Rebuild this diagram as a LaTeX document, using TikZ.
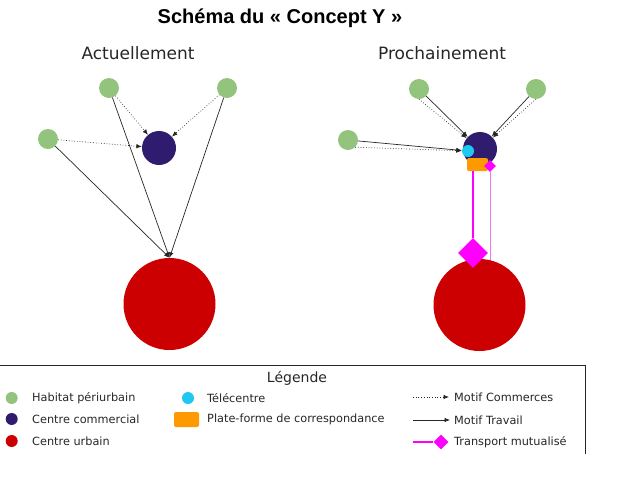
\documentclass[tikz,border=0pt]{standalone}
\usepackage{fontspec}
\setmainfont{DejaVu Sans}
\newfontfamily\titlefont{Liberation Sans}
\usetikzlibrary{arrows.meta}
\usetikzlibrary{shapes}

\definecolor{habitat}{RGB}{147,196,125}
\definecolor{commercial}{RGB}{48,28,110}
\definecolor{urbain}{RGB}{204,0,0}
\definecolor{tele}{RGB}{30,200,240}
\definecolor{plate}{RGB}{255,153,0}
\definecolor{mutual}{RGB}{255,0,255}
\definecolor{mutualthin}{RGB}{232,120,240}

\begin{document}
\begin{tikzpicture}[x=1pt, y=-1pt, ->, >={Latex[length=5.5pt,width=4.5pt]},
    hab/.style={circle, fill=habitat, inner sep=0, minimum size=#1},
    hab/.default=20,
    com/.style={circle, fill=commercial, inner sep=0, minimum size=#1},
    com/.default=34,
    urb/.style={circle, fill=urbain, inner sep=0, minimum size=#1},
    urb/.default=92,
    tel/.style={circle, fill=tele, inner sep=0, minimum size=12},
    plt/.style={rectangle, fill=plate, rounded corners=2pt, inner sep=0},
    dia/.style={diamond, fill=mutual, inner sep=0, minimum size=#1},
    link/.style={line width=0.7pt, black!85},
    shop/.style={link, dotted},
    lbl/.style={inner sep=0, text=black!85},
    txt/.style={lbl, anchor=west, font=\fontsize{11.3}{13}\selectfont}]

    \useasboundingbox (0,0) rectangle (620,477);

    \node[lbl, text=black, font=\titlefont\fontsize{20}{23}\selectfont\bfseries] (title) at (280,18) {Schéma du « Concept Y »};
    \node[lbl, font=\fontsize{17}{20}\selectfont] (now) at (138,53) {Actuellement};
    \node[lbl, font=\fontsize{17}{20}\selectfont] (next) at (442,53) {Prochainement};

    % Actuellement
    \node[hab] (h1) at (109,88) {};
    \node[hab] (h2) at (227,88) {};
    \node[hab] (h3) at (48,139) {};
    \node[com] (c1) at (159,148) {};
    \node[urb] (u1) at (169.5,304) {};

    \draw[shop] (h1) -- (c1);
    \draw[shop] (h2) -- (c1);
    \draw[shop] (h3) -- (c1);
    \draw[link] (h1) -- (u1.north);
    \draw[link] (h2) -- (u1.north);
    \draw[link] (h3) -- (u1.north);

    % Prochainement
    \node[hab] (h4) at (419,89) {};
    \node[hab] (h5) at (536,89) {};
    \node[hab] (h6) at (348,140) {};
    \node[com] (c2) at (480,149) {};
    \node[tel] (t2) at (468,151) {};
    \node[plt, minimum width=21, minimum height=13] (p2) at (477.5,164.5) {};
    \node[dia=12] (d1) at (490,166) {};
    \coordinate (e2) at (490,280);

    \draw[-, mutualthin, line width=0.8pt] (d1.south) -- (e2);
    \node[urb] (u2) at (479.5,305) {};
    \node[dia=30] (d2) at (473,253) {};
    \draw[-, mutual, line width=2.6pt] (p2.south -| d2) -- (d2);

    \draw[link] (h4) -- (c2);
    \draw[shop] (h4.south) -- (c2);
    \draw[link] (h5) -- (c2);
    \draw[shop] (h5.south) -- (c2);
    \draw[link] (h6) -- (t2);
    \draw[shop] (h6.south east) -- (t2);

    % Legende
    \draw[-, line width=0.8pt, black!85] (0,365) -- (585,365) -- (585,454);
    \node[lbl, font=\fontsize{14}{16}\selectfont] (leg) at (297,378) {Légende};

    \node[hab=12] (k1) at (11.7,398) {};
    \node[com=12] (k2) at (11.7,419) {};
    \node[urb=12] (k3) at (11.7,441) {};
    \node[txt] (k1t) at (32,398) {Habitat périurbain};
    \node[txt] (k2t) at (32,419) {Centre commercial};
    \node[txt] (k3t) at (32,441) {Centre urbain};

    \node[tel] (k4) at (188,398) {};
    \node[plt, minimum width=25, minimum height=15] (k5) at (186.5,419.5) {};
    \node[txt] (k4t) at (207,398) {Télécentre};
    \node[txt] (k5t) at (207,419) {Plate-forme de correspondance};

    \coordinate (a1) at (413,397);
    \coordinate (b1) at (449,397);
    \coordinate (a2) at (413,420);
    \coordinate (b2) at (450,420);
    \coordinate (a3) at (413,442);
    \node[dia=15] (k6) at (441,442) {};
    \draw[shop] (a1) -- (b1);
    \draw[link] (a2) -- (b2);
    \draw[-, mutual, line width=1.4pt] (a3) -- (k6);
    \node[txt] (k7t) at (454,397) {Motif Commerces};
    \node[txt] (k8t) at (454,420) {Motif Travail};
    \node[txt] (k9t) at (454,442) {Transport mutualisé};

\end{tikzpicture}
\end{document}
